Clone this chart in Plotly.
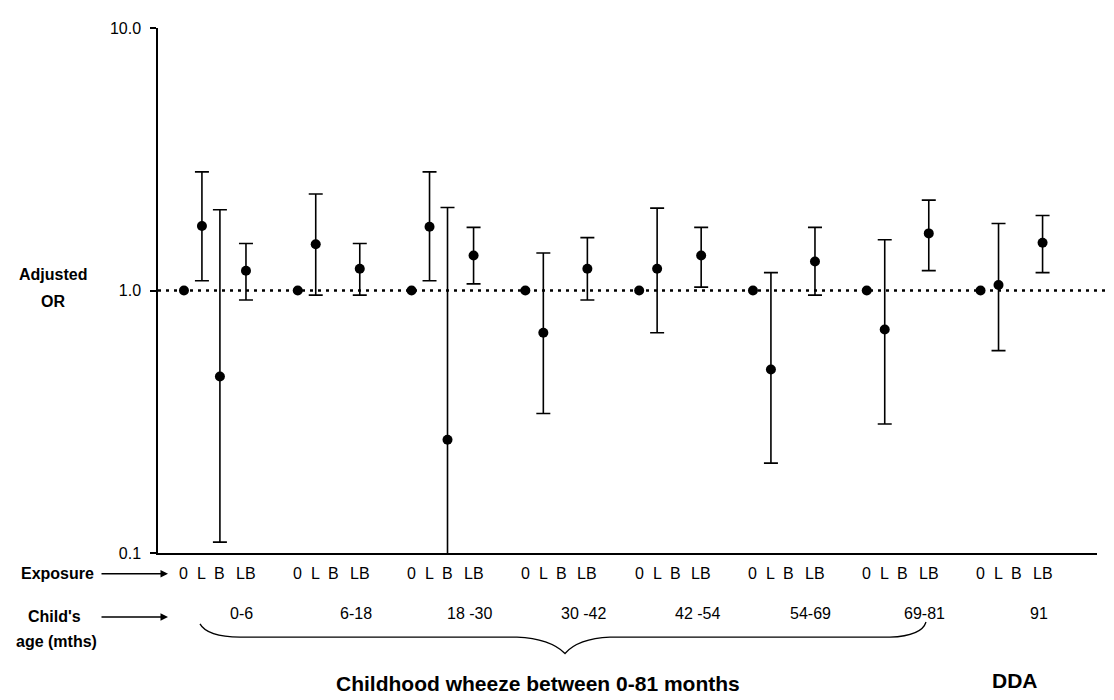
import plotly.graph_objects as go

# ---------------- data ----------------
ages = ["0-6", "6-18", "18 -30", "30 -42", "42 -54", "54-69", "69-81", "91"]
exposures = ["0", "L", "B", "LB"]

or_0 = [1.0, 1.0, 1.0, 1.0, 1.0, 1.0, 1.0, 1.0]

or_L = [1.76, 1.50, 1.75, 0.69, 1.21, 0.50, 0.71, 1.05]
lo_L = [1.09, 0.96, 1.09, 0.34, 0.69, 0.22, 0.31, 0.59]
hi_L = [2.83, 2.33, 2.83, 1.39, 2.06, 1.17, 1.56, 1.80]

or_B = [0.47, None, 0.27, None, None, None, None, None]
lo_B = [0.11, None, 0.05, None, None, None, None, None]
hi_B = [2.03, None, 2.07, None, None, None, None, None]

or_LB = [1.19, 1.21, 1.36, 1.21, 1.36, 1.29, 1.65, 1.52]
lo_LB = [0.92, 0.96, 1.06, 0.92, 1.03, 0.96, 1.19, 1.17]
hi_LB = [1.51, 1.51, 1.74, 1.59, 1.74, 1.74, 2.21, 1.93]

y_ticks = [0.1, 1.0, 10.0]
y_tick_text = ["0.1", "1.0", "10.0"]

# ---------------- layout helpers ----------------
PAGE = 8                      # default page margin around the figure
W_FIG, H_FIG = 1114 - PAGE, 700 - PAGE
L, R, T, B = 158, 1097, 20, 553   # plot area in window pixels
GROUP_PX = 113.8
X_MAX = (R - L) / GROUP_PX
START = 0.228
OFFS = {"0": 0.0, "L": 0.158, "B": 0.316, "LB": 0.545}
AGE_OFF = 0.51


def px(p):
    return (p - L) / (R - L)


def py(p):
    return (B - p) / (B - T)


def xpos(g, e):
    return g + START + OFFS[e]


FONT = "Arial, Liberation Sans, sans-serif"

fig = go.Figure()

series = [
    ("0", or_0, None, None),
    ("L", or_L, lo_L, hi_L),
    ("B", or_B, lo_B, hi_B),
    ("LB", or_LB, lo_LB, hi_LB),
]

for e, vals, lo, hi in series:
    xs, ys, ep, em = [], [], [], []
    for g, v in enumerate(vals):
        if v is None:
            continue
        xs.append(xpos(g, e))
        ys.append(v)
        if lo is not None:
            ep.append(hi[g] - v)
            em.append(v - lo[g])
    kw = {}
    if lo is not None:
        kw["error_y"] = dict(type="data", symmetric=False, array=ep, arrayminus=em,
                             color="black", thickness=1.6, width=7)
    fig.add_trace(go.Scatter(x=xs, y=ys, mode="markers", name=e,
                             marker=dict(color="black", size=10, symbol="circle"),
                             showlegend=False, **kw))

# reference line at OR = 1
fig.add_shape(type="line", xref="paper", yref="y", x0=0, x1=1.012, y0=1, y1=1,
              line=dict(color="black", width=2.5, dash="3px,5px"), layer="below")

ann = []
for g in range(len(ages)):
    for e in exposures:
        ann.append(dict(x=xpos(g, e), xref="x", y=py(574), yref="paper",
                        text=e, showarrow=False, xanchor="center", yanchor="middle",
                        font=dict(family=FONT, size=16, color="black")))
    ann.append(dict(x=g + START + AGE_OFF, xref="x", y=py(614), yref="paper",
                    text=ages[g], showarrow=False, xanchor="center", yanchor="middle",
                    font=dict(family=FONT, size=16, color="black")))

bold = dict(family=FONT, size=16, color="black", weight="bold")
big = dict(family=FONT, size=21, color="black", weight="bold")

extra = [
    dict(x=px(53), y=py(270), text="Adjusted", font=bold),
    dict(x=px(53), y=py(298), text="OR", font=bold),
    dict(x=px(57), y=py(574), text="Exposure", font=bold),
    dict(x=px(54), y=py(617), text="Child's", font=bold),
    dict(x=px(56), y=py(643), text="age (mths)", font=bold),
    dict(x=px(538), y=py(685), text="Childhood wheeze between 0-81 months", font=big),
    dict(x=px(1015), y=py(682), text="DDA", font=big),
]
for a in extra:
    a.update(xref="paper", yref="paper", showarrow=False, xanchor="center", yanchor="middle")
ann += extra

for yy in (574, 618):
    ann.append(dict(x=px(168), y=py(yy), xref="paper", yref="paper", text="",
                    showarrow=True, ax=-68, ay=0, arrowhead=2, arrowsize=1,
                    arrowwidth=1.5, arrowcolor="black"))

fig.update_layout(annotations=ann)


def bx(p):
    return (p - L) / GROUP_PX


brace = (f"M {bx(200)},{py(625)} Q {bx(207)},{py(638)} {bx(240)},{py(638.5)} "
         f"L {bx(517)},{py(638.5)} Q {bx(550)},{py(640)} {bx(565)},{py(655)} "
         f"Q {bx(578)},{py(640)} {bx(610)},{py(638.5)} "
         f"L {bx(890)},{py(638.5)} Q {bx(922)},{py(637)} {bx(926)},{py(623)}")
fig.add_shape(type="path", xref="x", yref="paper", path=brace,
              line=dict(color="black", width=1.3))

fig.update_layout(
    width=W_FIG, height=H_FIG,
    margin=dict(l=L - PAGE, r=W_FIG - (R - PAGE), t=T - PAGE, b=H_FIG - (B - PAGE)),
    paper_bgcolor="white", plot_bgcolor="white",
    xaxis=dict(range=[0, X_MAX], showline=True, linecolor="black", linewidth=1.5,
               showticklabels=False, ticks="", showgrid=False, zeroline=False,
               fixedrange=True),
    yaxis=dict(type="log", range=[-1, 1], showline=True, linecolor="black",
               linewidth=1.5, tickvals=y_ticks, ticktext=y_tick_text,
               ticks="outside", ticklen=6, tickwidth=1.5, tickcolor="black",
               ticklabelstandoff=6, showgrid=False, zeroline=False,
               tickfont=dict(family=FONT, size=16, color="black")),
    font=dict(family=FONT, color="black"),
)

fig.write_html("out.html")
